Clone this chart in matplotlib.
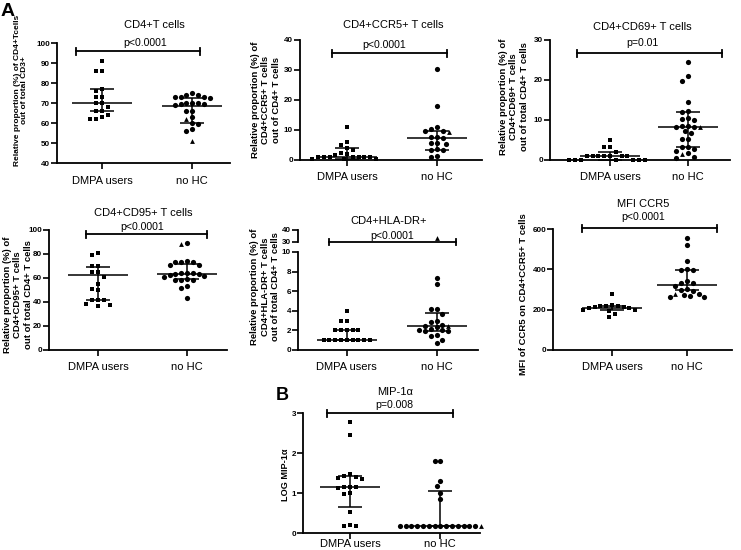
import numpy as np
import matplotlib
matplotlib.use("Agg")
import matplotlib.pyplot as plt
from matplotlib.lines import Line2D

plt.rcParams['font.family'] = ['Liberation Sans', 'DejaVu Sans']

W, H, DPI = 741, 550, 100
fig = plt.figure(figsize=(W / DPI, H / DPI), dpi=DPI)

groups = ['DMPA users', 'no HC']

# ---------------- data ----------------
# Panel 1: CD4+ T cells
cd4_dmpa_sq = [91, 86, 86, 77, 76, 73, 73, 70, 70, 68, 66, 66, 64, 63, 62, 62]
cd4_nohc_circ = [75, 74, 74, 73, 73, 73, 72.5, 70, 70, 70, 69.5, 69.5, 69, 66, 66, 63, 60, 59.5, 57, 56]
cd4_nohc_tri = [62, 51]
cd4_stats = [(70, 66, 77), (68.5, 60, 72.7)]  # median, q1, q3

# Panel 2: CD4+CCR5+
ccr5_dmpa_sq = [11, 6, 5, 4, 3.3, 2.4, 2, 1.8, 1.1, 1.1, 1.1, 1.1, 1.1, 1.1, 1.1, 0.3, 0.2, 0.2]
ccr5_nohc_circ = [30.3, 18, 11, 10.2, 9.8, 9.6, 7.8, 7.6, 7.4, 5.8, 5.6, 5.5, 3.7, 3.3, 3.2, 1.2, 1.0]
ccr5_nohc_tri = [9.5]
ccr5_stats = [(1.0, 0.3, 4.1), (7.2, 3.3, 9.8)]

# Panel 3: CD4+CD69+
cd69_dmpa_sq = [5.1, 3.3, 3.2, 2.1, 1, 1, 1, 1, 1, 1, 1, 0, 0, 0, 0, 0, 0, 0]
cd69_nohc_circ = [24.5, 21, 19.8, 14.6, 12.3, 12.1, 10.6, 10.3, 10.0, 8.5, 8.5, 8.3, 8.3, 7.2,
                  6.8, 5.2, 5.2, 3.3, 3.2, 2.7, 2.3, 1.8, 0.7, 0.6]
cd69_nohc_tri = [8.2, 1.5]
cd69_stats = [(1.0, 0.0, 2.0), (8.3, 3.3, 11.9)]

# Panel 4: CD4+CD95+
cd95_dmpa_sq = [81, 79, 70, 70, 65, 65, 61, 55, 51, 50, 42, 41.5, 41.5, 38, 37.5, 37]
cd95_nohc_circ = [89.5, 74, 73.5, 73, 73, 71, 71, 64.5, 64, 64, 63.5, 63, 62.5, 62, 60.5, 59.5,
                  58.5, 58, 58, 53, 52, 43]
cd95_nohc_tri = [88.5]
cd95_stats = [(62.5, 42, 69.4), (63.3, 58.9, 71.7)]

# Panel 5: CD4+HLA-DR+
hla_dmpa_sq = [4, 3, 3, 2, 2, 2, 2, 2, 1, 1, 1, 1, 1, 1, 1, 1, 1]
hla_nohc_circ = [7.3, 6.7, 4.2, 4.2, 3.7, 3.0, 2.9, 2.6, 2.5, 2.3, 2.1, 2.0, 2.0, 1.9, 1.9, 1.5, 1.4, 1.0, 0.7]
hla_nohc_tri = [2.5]
hla_nohc_tri_high = [33]
hla_stats = [(1, 1, 2), (2.4, 1.9, 3.8)]

# Panel 6: MFI CCR5
mfi_dmpa_sq = [280, 222, 220, 220, 218, 215, 212, 210, 208, 200, 198, 195, 178, 162]
mfi_nohc_circ = [555, 520, 443, 403, 398, 395, 343, 331, 331, 318, 301, 298, 295, 277, 273, 270, 265, 262]
mfi_nohc_tri = [278]
mfi_stats = [(210, 199, 219), (323, 298, 398)]

# Panel 7: MIP-1a
mip_dmpa_sq = [2.77, 2.45, 1.47, 1.42, 1.40, 1.38, 1.36, 1.16, 1.15, 1.14, 1.12, 1.0, 0.98, 0.52, 0.2, 0.17, 0.17]
mip_nohc_circ = [1.8, 1.8, 1.3, 1.17, 1.0, 0.85, 0.17, 0.17, 0.17, 0.17, 0.17, 0.17, 0.17,
                 0.17, 0.17, 0.17, 0.17, 0.17, 0.17, 0.17]
mip_nohc_tri = [0.17]
mip_stats = [(1.16, 0.65, 1.43), (0.17, 0.17, 1.04)]


# ---------------- helpers ----------------
def fx(x):
    return x / W


def fy(y):
    return 1 - y / H


TICK_FS = 5.8


def make_ax(box, xlim, ylim, yticks, xpad=5):
    l, t, r, b = box
    ax = fig.add_axes([fx(l), fy(b), (r - l) / W, (b - t) / H])
    ax.set_xlim(*xlim)
    ax.set_ylim(*ylim)
    for s in ['top', 'right']:
        ax.spines[s].set_visible(False)
    for s in ['left', 'bottom']:
        ax.spines[s].set_linewidth(1.3)
    ax.set_yticks(yticks)
    ax.set_yticklabels([str(v) for v in yticks], fontsize=TICK_FS, fontweight='bold')
    ax.set_xticks([1, 2])
    ax.set_xticklabels(groups, fontsize=8)
    ax.tick_params(axis='both', direction='out', length=4, width=1.2, color='black')
    ax.tick_params(axis='y', pad=1.0)
    ax.tick_params(axis='x', pad=xpad)
    ax.patch.set_alpha(0)
    return ax


def scales(ax):
    bb = ax.get_position()
    x0, x1 = ax.get_xlim()
    y0, y1 = ax.get_ylim()
    return bb.width * W / (x1 - x0), bb.height * H / (y1 - y0)


def swarm_offsets(ax, values, d_px=5.8):
    ppx, ppy = scales(ax)
    ys = np.asarray(values, dtype=float) * ppy
    order = np.argsort(-ys, kind='stable')
    placed = []
    offs = np.zeros(len(ys))
    h = d_px / 2
    cands = [0.0]
    for k in range(1, 60):
        cands += [-k * h, k * h]
    for i in order:
        for c in cands:
            if all((c - px) ** 2 + (ys[i] - py) ** 2 >= d_px ** 2 - 1e-6 for px, py in placed):
                offs[i] = c
                placed.append((c, ys[i]))
                break
    return offs / ppx


MK = {'s': ('s', 11), 'o': ('o', 14), '^': ('^', 12)}


def draw_group(ax, xc, sets, stats):
    vals, kinds = [], []
    for kind, v in sets:
        vals += list(v)
        kinds += [kind] * len(v)
    vals = np.array(vals, dtype=float)
    kinds = np.array(kinds)
    offs = swarm_offsets(ax, vals)
    for kind in ['s', 'o', '^']:
        m = kinds == kind
        if m.any():
            mk, sz = MK[kind]
            ax.scatter(xc + offs[m], vals[m], marker=mk, s=sz, c='black',
                       linewidths=0, clip_on=False, zorder=3)
    ppx, _ = scales(ax)
    med, q1, q3 = stats
    half, cap = 30 / ppx, 12 / ppx
    kw = dict(color='black', lw=1.1, zorder=4, solid_capstyle='butt', clip_on=False)
    ax.plot([xc - half, xc + half], [med, med], **kw)
    ax.plot([xc, xc], [q1, q3], **kw)
    ax.plot([xc - cap, xc + cap], [q1, q1], **kw)
    ax.plot([xc - cap, xc + cap], [q3, q3], **kw)


def bracket(x0, x1, y):
    kw = dict(color='black', lw=1.3, transform=fig.transFigure)
    fig.add_artist(Line2D([fx(x0), fx(x1)], [fy(y), fy(y)], **kw))
    fig.add_artist(Line2D([fx(x0), fx(x0)], [fy(y - 3.5), fy(y + 3.5)], **kw))
    fig.add_artist(Line2D([fx(x1), fx(x1)], [fy(y - 3.5), fy(y + 3.5)], **kw))


def ftext(x, y, s, size=8, **kw):
    fig.text(fx(x), fy(y), s, ha='center', va='center', fontsize=size, **kw)


def ylab(x, y, s, size=6.8):
    fig.text(fx(x), fy(y), s, ha='center', va='center', rotation=90, fontsize=size,
             fontweight='bold', multialignment='center', linespacing=1.15)


# ---------------- panels ----------------
panels = [
    dict(box=(57, 43, 230, 163), xlim=(0.5, 2.42), ylim=(40, 100), yt=[40, 50, 60, 70, 80, 90, 100],
         sets=[[('s', cd4_dmpa_sq)], [('o', cd4_nohc_circ), ('^', cd4_nohc_tri)]], stats=cd4_stats,
         title=("CD4+T cells", 154, 25), p=("p<0.0001", 145, 43), br=(76, 200, 51),
         yl=(21, 90, "Relative proportion (%) of CD4+Tcells\nout of total CD3+", 6.0), xpad=5),
    dict(box=(300, 40, 482, 160), xlim=(0.478, 2.5), ylim=(0, 40), yt=[0, 10, 20, 30, 40],
         sets=[[('s', ccr5_dmpa_sq)], [('o', ccr5_nohc_circ), ('^', ccr5_nohc_tri)]], stats=ccr5_stats,
         title=("CD4+CCR5+ T cells", 393, 25), p=("p<0.0001", 384, 45), br=(332, 447, 53),
         yl=(266, 100, "Relative proportion (%) of\nCD4+CCR5+ T cells\nout of CD4+ T cells", 6.8), xpad=5),
    dict(box=(550, 40, 730, 160), xlim=(0.23, 2.54), ylim=(0, 30), yt=[0, 10, 20, 30],
         sets=[[('s', cd69_dmpa_sq)], [('o', cd69_nohc_circ), ('^', cd69_nohc_tri)]], stats=cd69_stats,
         title=("CD4+CD69+ T cells", 642, 27), p=("p=0.01", 642, 43), br=(577, 722, 53),
         yl=(514, 97, "Relative proportion (%) of\nCD4+CD69+ T cells\nout of total CD4+ T cells", 6.8), xpad=5),
    dict(box=(49, 230, 227, 350), xlim=(0.45, 2.45), ylim=(0, 100), yt=[0, 20, 40, 60, 80, 100],
         sets=[[('s', cd95_dmpa_sq)], [('o', cd95_nohc_circ), ('^', cd95_nohc_tri)]], stats=cd95_stats,
         title=("CD4+CD95+ T cells", 143, 213), p=("p<0.0001", 142, 227), br=(86, 207, 234),
         yl=(18, 295, "Relative proportion (%) of\nCD4+CD95+ T cells\nout of total CD4+ T cells", 6.8), xpad=5),
    dict(box=(298, 252, 478, 350), xlim=(0.456, 2.46), ylim=(0, 10), yt=[0, 2, 4, 6, 8, 10],
         sets=[[('s', hla_dmpa_sq)], [('o', hla_nohc_circ), ('^', hla_nohc_tri)]], stats=hla_stats,
         title=("CD4+HLA-DR+", 389, 221), p=("p<0.0001", 392, 236), br=(329, 456, 242),
         yl=(265, 287, "Relative proportion (%) of\nCD4+HLA-DR+ T cells\nout of total CD4+ T cells", 6.8), xpad=5),
    dict(box=(553, 229, 732, 350), xlim=(0.213, 2.6), ylim=(0, 600), yt=[0, 200, 400, 600],
         sets=[[('s', mfi_dmpa_sq)], [('o', mfi_nohc_circ), ('^', mfi_nohc_tri)]], stats=mfi_stats,
         title=("MFI CCR5", 643, 204), p=("p<0.0001", 643, 217), br=(582, 717, 228),
         yl=(523, 294, "MFI of CCR5 on CD4+CCR5+ T cells", 6.8), xpad=5),
    dict(box=(303, 413, 480, 533), xlim=(0.478, 2.44), ylim=(0, 3), yt=[0, 1, 2, 3],
         sets=[[('s', mip_dmpa_sq)], [('o', mip_nohc_circ), ('^', mip_nohc_tri)]], stats=mip_stats,
         title=("MIP-1α", 395, 392), p=("p=0.008", 394, 405), br=(327, 453, 413),
         yl=(285, 475, "LOG MIP-1α", 6.6), xpad=0.5),
]

for P in panels:
    ax = make_ax(P['box'], P['xlim'], P['ylim'], P['yt'], xpad=P['xpad'])
    for xc, sets, st in zip([1, 2], P['sets'], P['stats']):
        draw_group(ax, xc, sets, st)
    t, tx, ty = P['title']
    ftext(tx, ty, t, size=8)
    p, px, py = P['p']
    ftext(px, py, p, size=7.6)
    bracket(*P['br'])
    yx, yy, ys, yfs = P['yl']
    ylab(yx, yy, ys, yfs)

# upper segment of broken axis (HLA-DR panel)
axu = fig.add_axes([fx(298), fy(242), (478 - 298) / W, (242 - 230) / H])
axu.set_xlim(0.456, 2.46)
axu.set_ylim(30, 40)
for s in ['top', 'right', 'bottom']:
    axu.spines[s].set_visible(False)
axu.spines['left'].set_linewidth(1.3)
axu.set_xticks([])
axu.set_yticks([30, 40])
axu.set_yticklabels(['30', '40'], fontsize=TICK_FS, fontweight='bold')
axu.tick_params(axis='y', direction='out', length=4, width=1.2, pad=1.0)
axu.patch.set_alpha(0)
axu.scatter([2 + 0 * v for v in hla_nohc_tri_high], hla_nohc_tri_high, marker='^', s=12,
            c='black', linewidths=0, clip_on=False, zorder=3)

# panel letters
fig.text(fx(1), fy(11), "A", fontsize=14, fontweight='bold', ha='left', va='center')
fig.text(fx(276), fy(396), "B", fontsize=13, fontweight='bold', ha='left', va='center')

fig.savefig("out.png", dpi=DPI)
